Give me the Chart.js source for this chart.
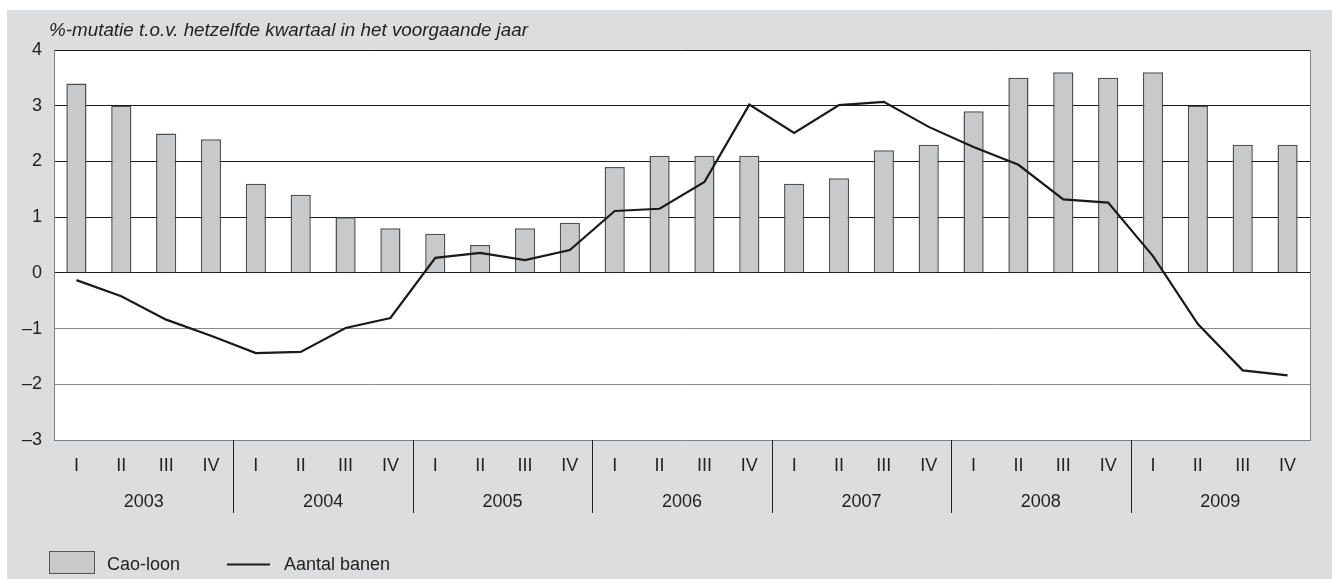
<!DOCTYPE html>
<html>
<head>
<meta charset="utf-8">
<script src="https://cdn.jsdelivr.net/npm/chart.js@4.4.1/dist/chart.umd.min.js"></script>
<style>
html,body{margin:0;padding:0;background:#fff;}
canvas{display:block;}
</style>
</head>
<body>
<canvas id="c" width="1332" height="579"></canvas>
<script>
const quarterLabels = ['I','II','III','IV','I','II','III','IV','I','II','III','IV','I','II','III','IV','I','II','III','IV','I','II','III','IV','I','II','III','IV'];
const years = ['2003','2004','2005','2006','2007','2008','2009'];
const caoLoon = [3.4,3.0,2.5,2.4, 1.6,1.4,1.0,0.8, 0.7,0.5,0.8,0.9, 1.9,2.1,2.1,2.1, 1.6,1.7,2.2,2.3, 2.9,3.5,3.6,3.5, 3.6,3.0,2.3,2.3];
const aantalBanen = [-0.13,-0.42,-0.84,-1.13, -1.44,-1.42,-0.99,-0.81, 0.27,0.36,0.23,0.41, 1.11,1.15,1.63,3.02, 2.51,3.01,3.07,2.62, 2.26,1.94,1.32,1.26, 0.30,-0.92,-1.75,-1.84];
const yTicks = [-3,-2,-1,0,1,2,3,4];
const subtitle = '%-mutatie t.o.v. hetzelfde kwartaal in het voorgaande jaar';
const legendLabels = ['Cao-loon','Aantal banen'];

const FONT = '"Liberation Sans", Arial, sans-serif';
const PANEL = '#dcdddf';

const decor = {
  id: 'decor',
  beforeDraw(chart) {
    const ctx = chart.ctx, a = chart.chartArea;
    ctx.save();
    ctx.fillStyle = '#ffffff';
    ctx.fillRect(0, 0, chart.width, chart.height);
    ctx.fillStyle = PANEL;
    ctx.fillRect(7, 10, chart.width - 7, chart.height - 10);
    ctx.fillStyle = '#ffffff';
    ctx.fillRect(a.left, a.top, a.right - a.left, a.bottom - a.top);
    ctx.restore();
  },
  afterDraw(chart) {
    const ctx = chart.ctx, a = chart.chartArea, xs = chart.scales.x;
    ctx.save();
    // right border
    ctx.strokeStyle = '#808080';
    ctx.lineWidth = 1;
    ctx.beginPath();
    ctx.moveTo(Math.round(a.right) + 0.5, a.top);
    ctx.lineTo(Math.round(a.right) + 0.5, a.bottom);
    ctx.stroke();
    // year separators and labels
    const step = xs.getPixelForValue(1) - xs.getPixelForValue(0);
    ctx.strokeStyle = '#222';
    ctx.lineWidth = 1;
    for (let k = 1; k < years.length; k++) {
      const x = Math.round(xs.getPixelForValue(4 * k) - step / 2) + 0.5;
      ctx.beginPath();
      ctx.moveTo(x, a.bottom);
      ctx.lineTo(x, 513);
      ctx.stroke();
    }
    ctx.fillStyle = '#222';
    ctx.font = '18px ' + FONT;
    ctx.textAlign = 'center';
    ctx.textBaseline = 'middle';
    years.forEach((y, k) => {
      const x = (xs.getPixelForValue(4 * k + 1) + xs.getPixelForValue(4 * k + 2)) / 2;
      ctx.fillText(y, x, 502);
    });
    // subtitle
    ctx.font = 'italic 19px ' + FONT;
    ctx.textAlign = 'left';
    const w = ctx.measureText(subtitle).width;
    const sx = 479 / w;
    ctx.save();
    ctx.translate(49, 30.5);
    ctx.scale(sx, 1);
    ctx.fillText(subtitle, 0, 0);
    ctx.restore();
    // legend
    ctx.font = '18px ' + FONT;
    ctx.fillStyle = '#c8c9cb';
    ctx.fillRect(49, 551, 46, 22);
    ctx.strokeStyle = '#555';
    ctx.lineWidth = 1;
    ctx.strokeRect(49.5, 551.5, 45, 22);
    ctx.fillStyle = '#222';
    ctx.fillText(legendLabels[0], 107, 565);
    ctx.strokeStyle = '#1a1a1a';
    ctx.lineWidth = 2;
    ctx.beginPath();
    ctx.moveTo(227, 564.5);
    ctx.lineTo(270, 564.5);
    ctx.stroke();
    ctx.fillText(legendLabels[1], 284, 565);
    ctx.restore();
  }
};

new Chart(document.getElementById('c'), {
  type: 'bar',
  data: {
    labels: quarterLabels,
    datasets: [
      {
        type: 'bar',
        label: legendLabels[0],
        data: caoLoon,
        backgroundColor: '#c8c9cb',
        borderColor: '#505050',
        borderWidth: 1.5,
        barPercentage: 0.45,
        categoryPercentage: 1,
        order: 2
      },
      {
        type: 'line',
        label: legendLabels[1],
        data: aantalBanen,
        borderColor: '#1a1a1a',
        borderWidth: 2.2,
        pointRadius: 0,
        tension: 0,
        fill: false,
        order: 1
      }
    ]
  },
  options: {
    responsive: false,
    devicePixelRatio: 1,
    animation: false,
    layout: { padding: { top: 50, right: 22, left: 0, bottom: 0 } },
    plugins: { legend: { display: false }, tooltip: { enabled: false }, title: { display: false } },
    scales: {
      x: {
        grid: { display: false, drawTicks: false },
        border: { display: true, color: '#808080', width: 1 },
        ticks: { color: '#222', font: { family: FONT, size: 18 }, padding: 15, autoSkip: false, maxRotation: 0 },
        afterFit(s) { s.height = 139; }
      },
      y: {
        min: -3, max: 4,
        afterBuildTicks(s) { s.ticks = yTicks.map(v => ({ value: v })); },
        ticks: {
          color: '#222', font: { family: FONT, size: 18 }, padding: 12,
          callback: v => (v < 0 ? '\u2013' + Math.abs(v) : String(v))
        },
        grid: {
          drawTicks: false,
          color: c => (c.tick && c.tick.value >= 0 ? '#1a1a1a' : '#8a8a8a'),
          lineWidth: 1
        },
        border: { display: true, color: '#808080', width: 1 },
        afterFit(s) { s.width = 54; }
      }
    }
  },
  plugins: [decor]
});
</script>
</body>
</html>
